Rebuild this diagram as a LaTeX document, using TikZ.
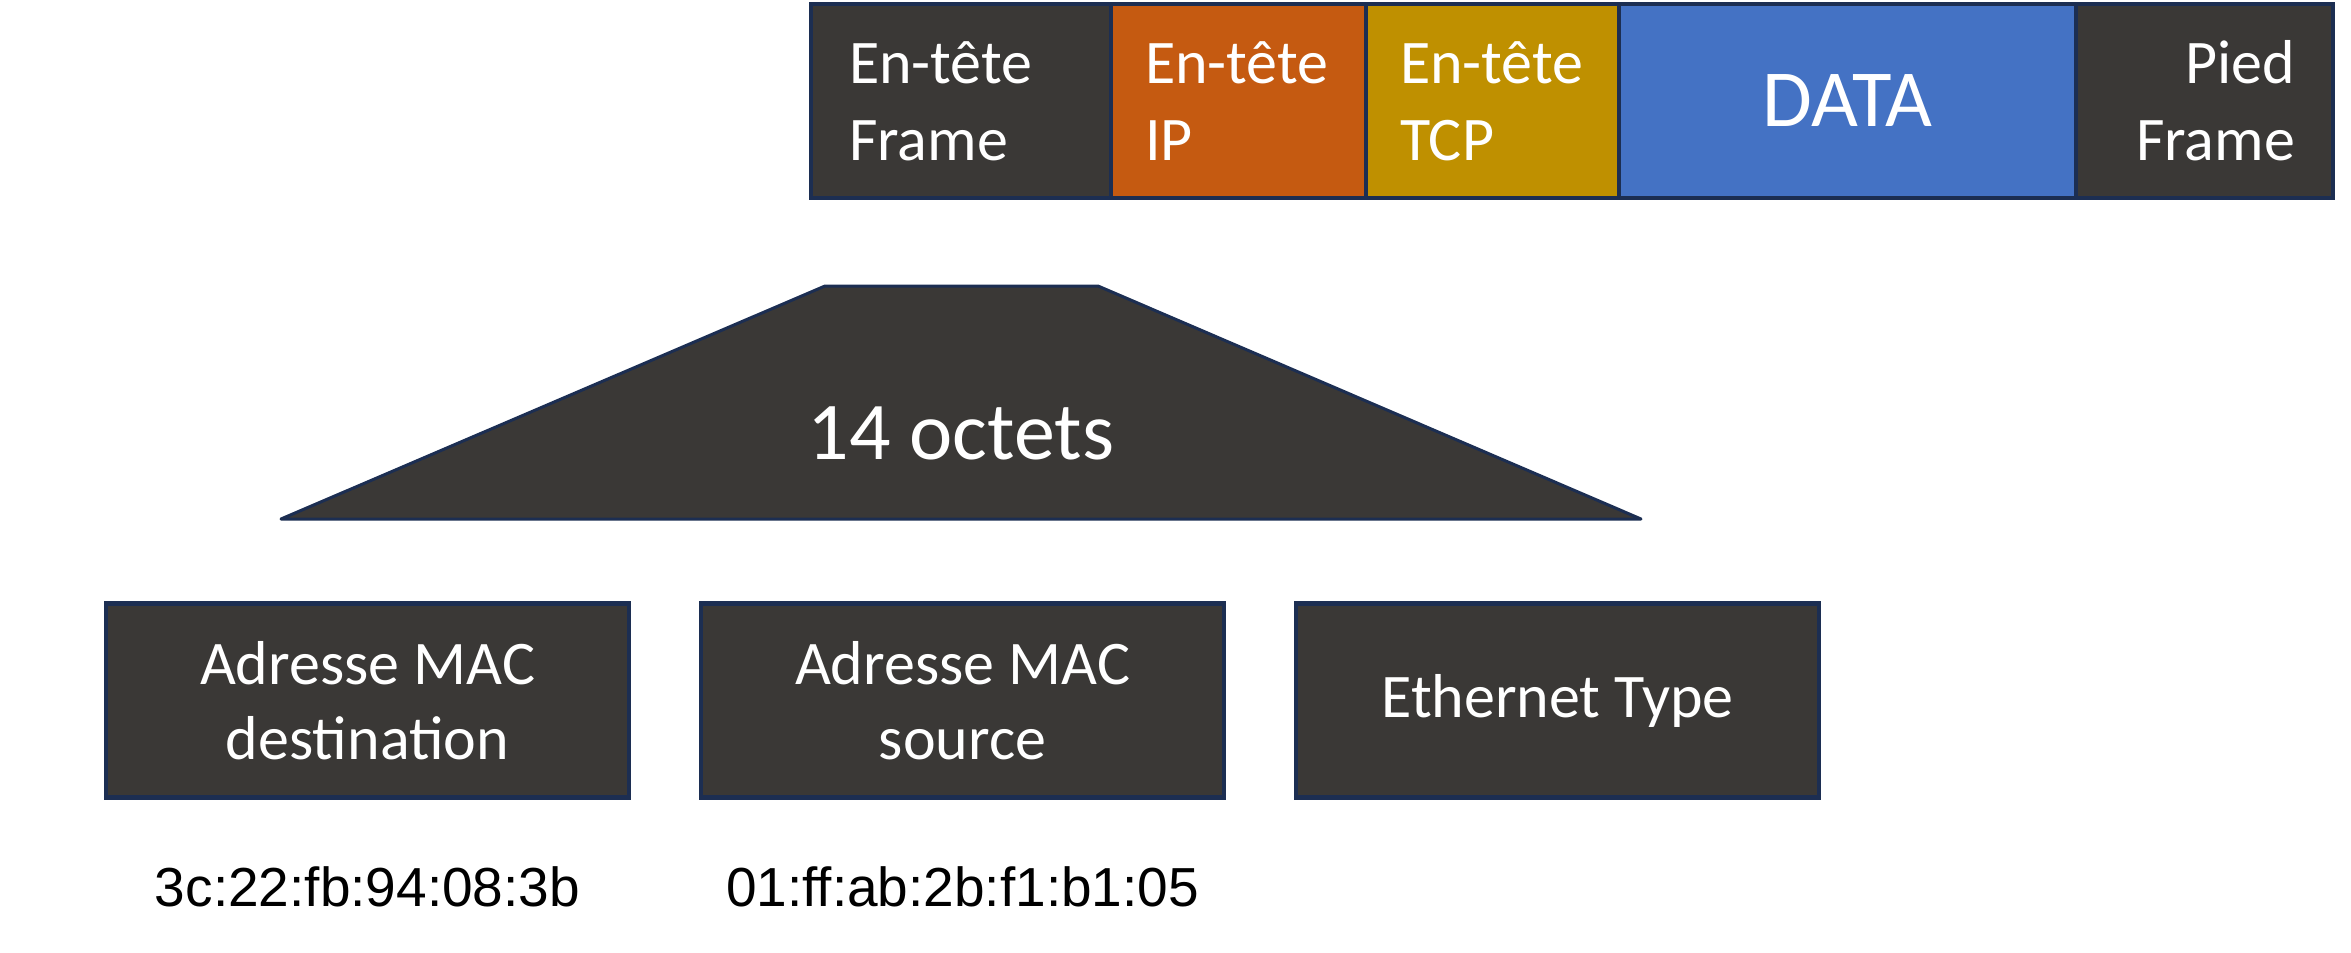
\documentclass[tikz,border=0pt]{standalone}
\usepackage{fontspec}
\setmainfont{Carlito}
\newfontfamily\macfont{Liberation Sans}
\usetikzlibrary{positioning}
\definecolor{cellgray}{HTML}{3A3836}
\definecolor{iporange}{HTML}{C55A11}
\definecolor{tcpgold}{HTML}{BF9000}
\definecolor{datablue}{HTML}{4472C4}
\definecolor{navy}{HTML}{1C2E52}
\exhyphenpenalty=10000
\hyphenpenalty=10000

\begin{document}
\begin{tikzpicture}[x=1pt,y=-1pt,outer sep=0pt,
  cell/.style={draw=navy,line width=4.5pt,fill=#1,text=white,minimum height=194pt,
    inner xsep=34pt,inner ysep=0pt,font=\fontsize{62}{77}\selectfont},
  field/.style={draw=navy,line width=4.5pt,fill=cellgray,text=white,minimum width=523pt,
    minimum height=194pt,align=center,font=\fontsize{62}{75}\selectfont},
  mac/.style={inner sep=0pt,font=\macfont\fontsize{55}{66}\selectfont}]
\useasboundingbox (0,0) rectangle (2351,953);
% trame
\node[cell=cellgray,minimum width=300pt,text width=224pt,align=left,inner xsep=38pt,anchor=north west] (hf) at (811,4) {En-tête\\Frame};
\node[cell=iporange,minimum width=255pt,text width=187pt,align=left,right=0pt of hf] (ip) {En-tête\\IP};
\node[cell=tcpgold,minimum width=253pt,text width=185pt,align=left,right=0pt of ip] (tcp) {En-tête\\TCP};
\node[cell=datablue,minimum width=457pt,font=\fontsize{81}{97}\selectfont,right=0pt of tcp] (data) {DATA};
\node[cell=cellgray,minimum width=257pt,text width=181pt,align=right,inner xsep=38pt,right=0pt of data] (pf) {Pied\\Frame};
% zoom sur l'en-tete
\filldraw[fill=cellgray,draw=navy,line width=3pt,line join=round] (825,286) -- (1098,286) -- (1641,519) -- (281,519) -- cycle;
\node[text=white,font=\fontsize{82}{98}\selectfont] (oct) at (961,433) {14 octets};
% champs
\node[field] (dst) at (367.5,700.5) {Adresse MAC\\destination};
\node[field,right=72pt of dst] (src) {Adresse MAC\\source};
\node[field,right=72pt of src] (type) {Ethernet Type};
\node[mac,below=69pt of dst] (dstmac) {3c:22:fb:94:08:3b};
\node[mac,below=69pt of src] (srcmac) {01:ff:ab:2b:f1:b1:05};
\end{tikzpicture}
\end{document}
